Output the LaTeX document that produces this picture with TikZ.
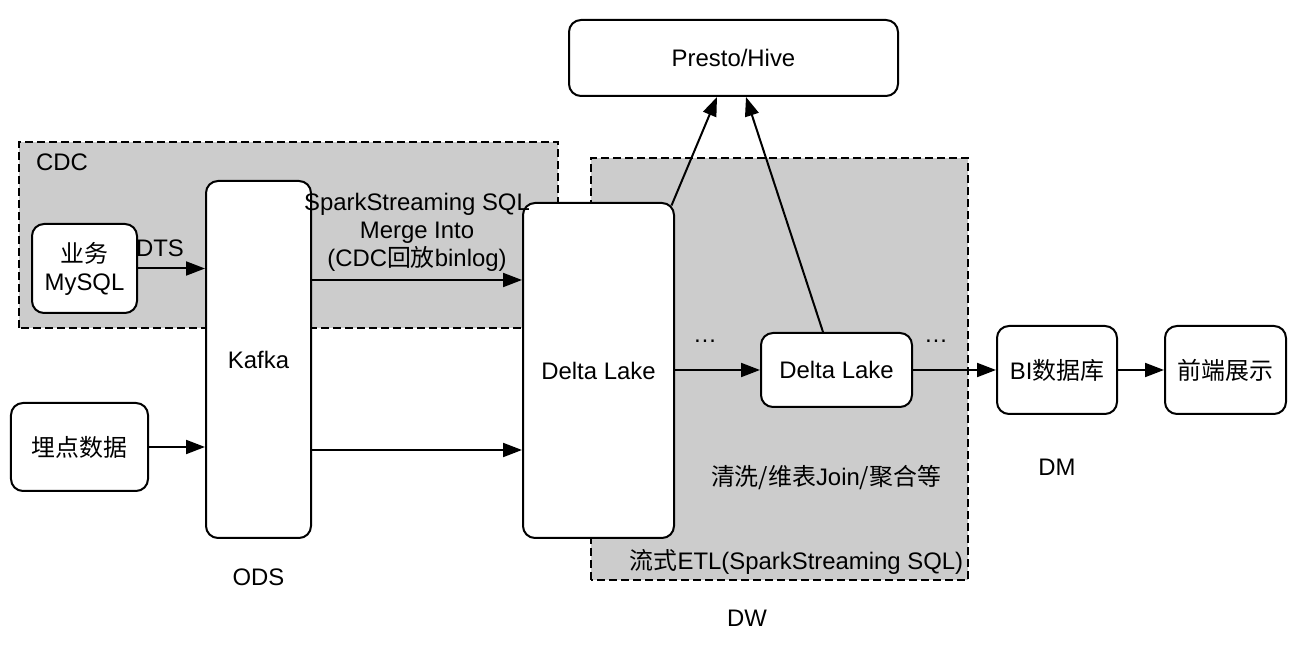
\documentclass[tikz,border=0pt]{standalone}
\usepackage{fontspec}
\setmainfont{Liberation Sans}
\newfontfamily\cjk{Noto Sans CJK SC}
\usetikzlibrary{arrows.meta}

\definecolor{areagray}{HTML}{CCCCCC}
\tikzset{
  box/.style={draw, line width=0.04cm, rounded corners=0.24cm, fill=white, align=center, inner sep=0pt},
  region/.style={draw, line width=0.04cm, dash pattern=on 0.16cm off 0.08cm, fill=areagray},
  link/.style={line width=0.04cm, -{Triangle[length=0.38cm,width=0.28cm]}},
}

\begin{document}
\begin{tikzpicture}[font=\fontsize{13.6}{16}\selectfont]
                \useasboundingbox (0,0) rectangle (26.000000,12.900000);

                % Drawing region CDC
                \draw [region] (0.380000,6.340000) rectangle (11.160000,10.060000);%
                \draw (0.600000,9.660000) node (cdc) [anchor=west] {CDC};%

                % Drawing region DW
                \draw [region] (11.820000,1.300000) rectangle (19.360000,9.740000);%
                \draw (15.930000,1.660000) node (etl) {{\cjk 流式}ETL(SparkStreaming SQL)};%
                \draw (16.520000,3.340000) node (clean) {{\cjk 清洗/维表}Join{\cjk /聚合等}};%

                % Drawing boxes
                \draw (14.670000,11.740000) node (presto) [box, minimum width=6.58cm, minimum height=1.52cm] {Presto/Hive};%
                \draw (1.690000,7.530000) node (mysql) [box, minimum width=2.10cm, minimum height=1.78cm] {{\cjk 业务}\\MySQL};%
                \draw (1.590000,3.960000) node (maidian) [box, minimum width=2.74cm, minimum height=1.76cm] {\cjk 埋点数据};%
                \draw (5.170000,5.710000) node (kafka) [box, minimum width=2.10cm, minimum height=7.14cm] {Kafka};%
                \draw (11.970000,5.490000) node (bigdelta) [box, minimum width=3.02cm, minimum height=6.70cm] {Delta Lake};%
                \draw (16.730000,5.500000) node (smalldelta) [box, minimum width=3.02cm, minimum height=1.48cm] {Delta Lake};%
                \draw (21.140000,5.500000) node (bidb) [box, minimum width=2.40cm, minimum height=1.76cm] {BI{\cjk 数据库}};%
                \draw (24.510000,5.500000) node (front) [box, minimum width=2.42cm, minimum height=1.76cm] {\cjk 前端展示};%

                % Drawing arrows
                \coordinate (cdcflow) at (0,7.300000);%
                \coordinate (logflow) at (0,3.900000);%
                \draw [link] (mysql.east) -- (mysql.east -| kafka.west);%
                \draw [link] (maidian.east) -- (maidian.east -| kafka.west);%
                \draw [link] (cdcflow -| kafka.east) -- (cdcflow -| bigdelta.west);%
                \draw [link] (logflow -| kafka.east) -- (logflow -| bigdelta.west);%
                \draw [link] (bigdelta.east |- smalldelta.west) -- (smalldelta.west);%
                \draw [link] (smalldelta.east) -- (smalldelta.east -| bidb.west);%
                \draw [link] (bidb.east) -- (front.west);%
                \draw [link] ([xshift=-0.07cm,yshift=-0.07cm]bigdelta.north east) -- ([xshift=-0.33cm]presto.south);%
                \draw [link] ([xshift=-0.27cm]smalldelta.north) -- ([xshift=0.25cm]presto.south);%

                % Marking labels
                \draw (3.200000,7.940000) node (dts) {DTS};%
                \draw (8.340000,8.260000) node (merge) [align=center] {SparkStreaming SQL\\Merge Into\\(CDC{\cjk 回放}binlog)};%
                \draw (14.100000,6.080000) node (dotsa) {…};%
                \draw (18.720000,6.080000) node (dotsb) {…};%
                \draw (5.170000,1.360000) node (ods) {ODS};%
                \draw (14.940000,0.540000) node (dw) {DW};%
                \draw (21.140000,3.560000) node (dm) {DM};%
\end{tikzpicture}
\end{document}
